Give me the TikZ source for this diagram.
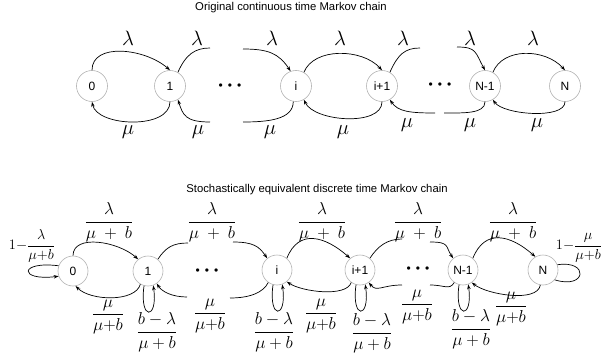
\documentclass[tikz,border=0pt]{standalone}
\usepackage{fontspec}
\setmainfont{Liberation Sans}
\usetikzlibrary{arrows.meta}
\tikzset{
  st/.style={circle, draw=gray!60, line width=0.6pt, minimum size=31pt, inner sep=0pt, font=\fontsize{12}{12}\selectfont},
  sb/.style={st, minimum size=30pt},
  arr/.style={-{Stealth[length=5pt,width=3.5pt]}, line width=0.7pt},
  ln/.style={line width=0.7pt},
  big/.style={font=\fontsize{22}{22}\selectfont, inner sep=0pt},
  fr/.style={font=\fontsize{16}{16}\selectfont, inner sep=0pt},
  frs/.style={font=\fontsize{13.5}{13.5}\selectfont, inner sep=0pt},
  ttl/.style={font=\fontsize{11.3}{11.3}\selectfont},
  dots/.style={font=\fontsize{12}{12}\selectfont, inner sep=0pt}
}
\newcommand{\mydots}{\textbullet\hspace{5pt}\textbullet\hspace{5pt}\textbullet}
\begin{document}
\begin{tikzpicture}[x=1pt,y=-1pt]
\useasboundingbox (0,0) rectangle (603,356);
% ---------- top chain ----------
\node[ttl] (t1) at (291,8) {Original continuous time Markov chain};
\node[st] (a0) at (92,86) {0};
\node[st] (a1) at (170,86) {1};
\node[st] (ai) at (296,86) {i};
\node[st] (ai1) at (382,86) {i+1};
\node[st] (aN1) at (485,86) {N-1};
\node[st] (aN) at (565,86) {N};
\node[dots] (d1) at (230,87) {\mydots};
\node[dots] (d2) at (440,86) {\mydots};
\coordinate (f1) at (210,48);
\coordinate (f2) at (243,49);
\coordinate (f3) at (420,48);
\coordinate (f4) at (457,47);
\coordinate (f5) at (210,122);
\coordinate (f6) at (243,122);
\coordinate (f7) at (435,113);
\coordinate (f8) at (444,113);
\draw[arr] (a0.north) .. controls +(0,-28) and +(-25,-22) .. (a1.north);
\draw[ln] (a1.60) .. controls +(8,-18) and +(-15,0) .. (f1);
\draw[arr] (f2) .. controls +(25,0) and +(-12,-18) .. (ai.110);
\draw[arr] (ai.60) .. controls +(10,-25) and +(-20,-22) .. (ai1.north);
\draw[ln] (ai1.60) .. controls +(8,-18) and +(-15,0) .. (f3);
\draw[arr] (f4) .. controls +(20,0) and +(-10,-18) .. (aN1.north);
\draw[arr] (aN1.60) .. controls +(10,-25) and +(-20,-22) .. (aN.north);
\draw[arr] (a1.south) .. controls +(0,28) and +(5,25) .. (a0.south);
\draw[arr] (f5) .. controls +(-25,0) and +(5,15) .. (a1.-60);
\draw[ln] (ai.-100) .. controls +(0,18) and +(25,0) .. (f6);
\draw[arr] (ai1.south) .. controls +(0,25) and +(10,22) .. (ai.-60);
\draw[arr] (f7) .. controls +(-25,0) and +(8,12) .. (ai1.-60);
\draw[ln] (aN1.south) .. controls +(0,12) and +(20,0) .. (f8);
\draw[arr] (aN.south) .. controls +(0,18) and +(10,15) .. (aN1.-60);
\node[big] (l1) at (128,38) {$\lambda$};
\node[big] (l2) at (197,38) {$\lambda$};
\node[big] (l3) at (272,38) {$\lambda$};
\node[big] (l4) at (340,38) {$\lambda$};
\node[big] (l5) at (403,38) {$\lambda$};
\node[big] (l6) at (470,38) {$\lambda$};
\node[big] (l7) at (533,38) {$\lambda$};
\node[big] (m1) at (128,132) {$\mu$};
\node[big] (m2) at (198,132) {$\mu$};
\node[big] (m3) at (270,132) {$\mu$};
\node[big] (m4) at (343,132) {$\mu$};
\node[big] (m5) at (407,125) {$\mu$};
\node[big] (m6) at (470,125) {$\mu$};
\node[big] (m7) at (537,125) {$\mu$};
% ---------- bottom chain ----------
\node[ttl] (t2) at (317,190) {Stochastically equivalent discrete time Markov chain};
\node[sb] (b0) at (73,271) {0};
\node[sb] (b1) at (148,271) {1};
\node[sb] (bi) at (277,270) {i};
\node[sb] (bi1) at (360,270) {i+1};
\node[sb] (bN1) at (463,270) {N-1};
\node[sb] (bN) at (543,270) {N};
\node[dots] (d3) at (207,272) {\mydots};
\node[dots] (d4) at (418,270) {\mydots};
\coordinate (g1) at (188,243);
\coordinate (g2) at (233,242);
\coordinate (g3) at (402,239);
\coordinate (g4) at (430,242);
\coordinate (g5) at (187,297);
\coordinate (g6) at (230,298);
\coordinate (g7) at (402,285);
\coordinate (g8) at (430,285);
\draw[arr] (b0.north) .. controls +(0,-22) and +(-20,-18) .. (b1.130);
\draw[ln] (b1.50) .. controls +(8,-12) and +(-15,0) .. (g1);
\draw[arr] (g2) .. controls +(20,0) and +(-8,-12) .. (bi.130);
\draw[arr] (bi.50) .. controls +(12,-30) and +(-25,-22) .. (bi1.130);
\draw[ln] (bi1.50) .. controls +(8,-12) and +(-15,0) .. (g3);
\draw[arr] (g4) .. controls +(20,0) and +(-8,-12) .. (bN1.130);
\draw[arr] (bN1.50) .. controls +(12,-30) and +(-25,-22) .. (bN.120);
\draw[arr] (b1.-120) .. controls +(-5,18) and +(15,15) .. (b0.-80);
\draw[arr] (g5) .. controls +(-15,0) and +(5,8) .. (b1.-55);
\draw[ln] (bi.-125) .. controls +(-5,10) and +(20,0) .. (g6);
\draw[arr] (bi1.-125) .. controls +(-5,15) and +(15,10) .. (bi.-50);
\draw[arr] (g7) .. controls +(-20,0) and +(8,10) .. (bi1.-55);
\draw[ln] (bN1.-125) .. controls +(-5,8) and +(15,0) .. (g8);
\draw[arr] (bN.-100) .. controls +(-3,18) and +(15,12) .. (bN1.-55);
\foreach \n in {b1,bi,bi1,bN1}
  \draw[arr] (\n.-105) .. controls +(-5,35) and +(5,35) .. (\n.-70);
\draw[arr] (b0.160) .. controls +(-40,-5) and +(-40,5) .. (b0.200);
\draw[ln] (bN.20) .. controls +(32,-5) and +(32,10) .. (bN.-40);
\node[frs] (p0) at (32,246) {$1{-}\displaystyle\frac{\lambda}{\mu{+}b}$};
\node[frs] (pN) at (579,248) {$1{-}\displaystyle\frac{\mu}{\mu{+}b}$};
\node[fr] (u1) at (109,222) {$\displaystyle\frac{\lambda}{\mu\ +\ b}$};
\node[fr] (u2) at (212,222) {$\displaystyle\frac{\lambda}{\mu\ +\ b}$};
\node[fr] (u3) at (322,222) {$\displaystyle\frac{\lambda}{\mu\ +\ b}$};
\node[fr] (u4) at (418,222) {$\displaystyle\frac{\lambda}{\mu\ +\ b}$};
\node[fr] (u5) at (513,222) {$\displaystyle\frac{\lambda}{\mu\ +\ b}$};
\node[fr] (w1) at (108,317) {$\displaystyle\frac{\mu}{\mu{+}b}$};
\node[fr] (w2) at (210,316) {$\displaystyle\frac{\mu}{\mu{+}b}$};
\node[fr] (w3) at (321,316) {$\displaystyle\frac{\mu}{\mu{+}b}$};
\node[fr] (w4) at (417,307) {$\displaystyle\frac{\mu}{\mu{+}b}$};
\node[fr] (w5) at (511,309) {$\displaystyle\frac{\mu}{\mu{+}b}$};
\node[fr] (s1) at (157,332) {$\displaystyle\frac{b-\lambda}{\mu+b}$};
\node[fr] (s2) at (274,332) {$\displaystyle\frac{b-\lambda}{\mu+b}$};
\node[fr] (s3) at (372,333) {$\displaystyle\frac{b-\lambda}{\mu+b}$};
\node[fr] (s4) at (471,329) {$\displaystyle\frac{b-\lambda}{\mu+b}$};
\end{tikzpicture}
\end{document}
